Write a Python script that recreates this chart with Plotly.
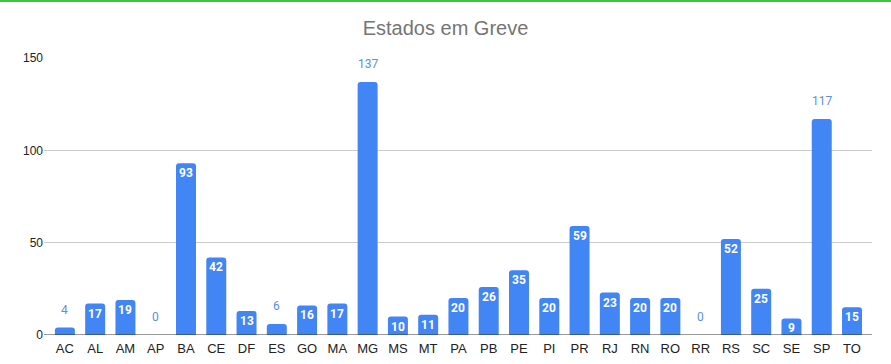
import plotly.graph_objects as go

estados = ["AC", "AL", "AM", "AP", "BA", "CE", "DF", "ES", "GO", "MA", "MG", "MS", "MT", "PA",
           "PB", "PE", "PI", "PR", "RJ", "RN", "RO", "RR", "RS", "SC", "SE", "SP", "TO"]
valores = [4, 17, 19, 0, 93, 42, 13, 6, 16, 17, 137, 10, 11, 20,
           26, 35, 20, 59, 23, 20, 20, 0, 52, 25, 9, 117, 15]
y_ticks = [0, 50, 100, 150]

W, H = 891, 364
ML, MR, MT, MB = 44, 19, 58, 29
PW, PH = W - ML - MR, H - MT - MB

BLUE = "#4285f4"
LABEL_OUT = "#5b8fe8"
AXFONT = "Liberation Sans, Arial, sans-serif"

fig = go.Figure(go.Bar(
    x=estados, y=valores,
    marker=dict(color=BLUE, cornerradius=3, line=dict(width=0)),
    width=0.66,
    hoverinfo="x+y",
))

annotations = []
for e, v in zip(estados, valores):
    outside = v < 8 or v >= 100
    if outside:
        annotations.append(dict(x=e, y=v, xref="x", yref="y", text=str(v), showarrow=False,
                                yanchor="middle", yshift=18,
                                font=dict(family="Roboto", size=12, color=LABEL_OUT)))
    else:
        annotations.append(dict(x=e, y=v, xref="x", yref="y", text=f"<b>{v}</b>", showarrow=False,
                                yanchor="middle", yshift=-10,
                                font=dict(family="Roboto", size=12, color="white")))

fig.update_layout(
    width=W, height=H,
    margin=dict(l=ML, r=MR, t=MT, b=MB, autoexpand=False),
    paper_bgcolor="white", plot_bgcolor="white",
    title=dict(text="Estados em Greve", x=0.5, xref="container", xanchor="center",
               y=1 - 28 / H, yref="container", yanchor="middle",
               font=dict(family=AXFONT, size=20, color="#757575")),
    showlegend=False,
    xaxis=dict(range=[-0.69, 26.66], showgrid=False, ticks="", showline=False,
               ticklabelstandoff=4, automargin=False,
               tickfont=dict(family=AXFONT, size=13, color="#222"), zeroline=False),
    yaxis=dict(range=[0, 150], tickvals=y_ticks, showgrid=True, gridcolor="#cccccc",
               gridwidth=1, zeroline=False, ticks="", showline=False, automargin=False,
               tickfont=dict(family=AXFONT, size=12, color="#222")),
    annotations=annotations,
    shapes=[
        dict(type="line", xref="paper", yref="y", x0=0, x1=1, y0=0, y1=0,
             line=dict(color="#333333", width=1), layer="above"),
        dict(type="rect", xref="paper", yref="paper",
             x0=-ML / PW, x1=1 + MR / PW,
             y0=1 + (MT - 2) / PH, y1=1 + MT / PH,
             line=dict(width=0), fillcolor="#3cc83c"),
    ],
)

fig.write_html("out.html")
